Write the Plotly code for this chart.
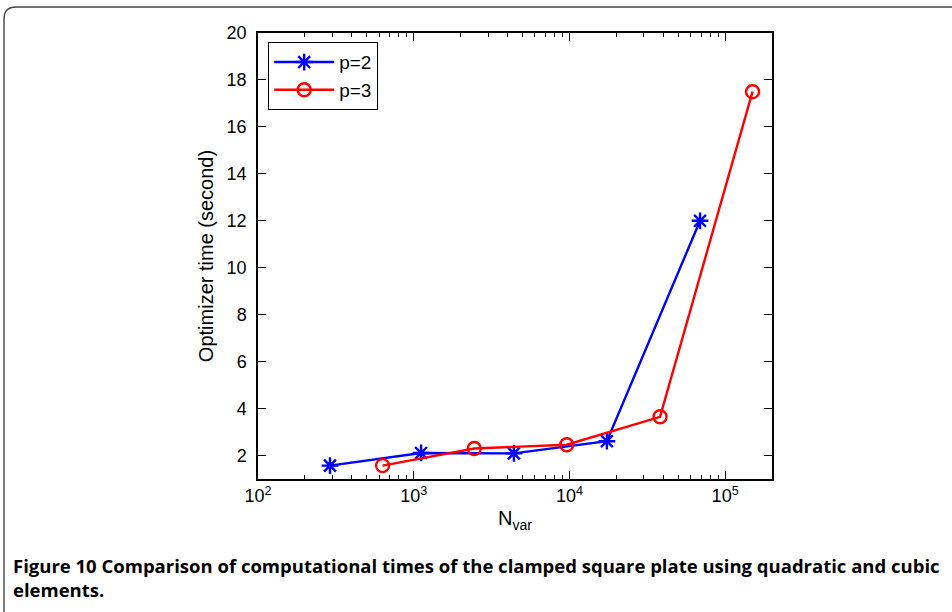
import plotly.graph_objects as go

# Data
n_var_p2 = [290, 1115, 4400, 17400, 69000]
time_p2 = [1.57, 2.11, 2.09, 2.61, 12.0]
n_var_p3 = [631, 2450, 9610, 38200, 150000]
time_p3 = [1.57, 2.30, 2.46, 3.65, 17.5]

x_tick_vals = [100, 1000, 10000, 100000]
x_tick_text = ["10<sup>2</sup>", "10<sup>3</sup>", "10<sup>4</sup>", "10<sup>5</sup>"]
x_minor_vals = [k * 10 ** d for d in range(2, 6) for k in range(2, 10) if k * 10 ** d < 200000]
y_tick_vals = [2, 4, 6, 8, 10, 12, 14, 16, 18, 20]

caption = ("<b>Figure 10 Comparison of computational times of the clamped square plate using quadratic and cubic<br>"
           "elements.</b>")

fig = go.Figure()
fig.add_trace(go.Scatter(
    x=n_var_p2, y=time_p2, name="p=2", mode="lines+markers",
    line=dict(color="#0000ff", width=2.4),
    marker=dict(symbol="asterisk-open", size=14, color="#0000ff", line=dict(color="#0000ff", width=2.4)),
))
fig.add_trace(go.Scatter(
    x=n_var_p3, y=time_p3, name="p=3", mode="lines+markers",
    line=dict(color="#ff0000", width=2.4),
    marker=dict(symbol="circle-open", size=13, color="#ff0000", line=dict(color="#ff0000", width=2.4)),
))

L, R, T, B = 258, 180, 33, 133
W, H = 952, 612
pw, ph = W - L - R, H - T - B

def px(x):
    return (x - L) / pw

def py(y):
    return (H - B - y) / ph

frame_path = (f"M {px(960)},{py(7)} L {px(16)},{py(7)} "
              f"Q {px(4)},{py(7)} {px(4)},{py(19)} L {px(4)},{py(620)}")

fig.update_layout(
    width=W, height=H,
    margin=dict(l=L, r=R, t=T, b=B),
    paper_bgcolor="white", plot_bgcolor="white",
    font=dict(family="Liberation Sans, Arial, sans-serif", color="black", size=16),
    showlegend=True,
    legend=dict(
        x=px(268), y=py(42), xanchor="left", yanchor="top",
        bordercolor="black", borderwidth=1.2, bgcolor="white",
        font=dict(size=19), tracegroupgap=0, itemwidth=60,
    ),
    shapes=[dict(type="path", xref="paper", yref="paper", path=frame_path,
                 line=dict(color="#444444", width=1.4), layer="below")],
    annotations=[dict(
        text=caption, xref="paper", yref="paper",
        x=px(11), y=py(551), xanchor="left", yanchor="top", align="left",
        showarrow=False, font=dict(family="Open Sans, sans-serif", size=18.5, color="black"),
    )],
)

fig.update_xaxes(
    type="log", range=[2, 5.301],
    tickvals=x_tick_vals, ticktext=x_tick_text,
    ticks="inside", ticklen=8, tickcolor="black", tickwidth=1.2,
    showline=True, linecolor="black", linewidth=1.5, mirror="ticks",
    showgrid=False, zeroline=False,
    minor=dict(tickmode="array", tickvals=x_minor_vals, ticks="inside", ticklen=4,
               tickcolor="black", tickwidth=1.2, showgrid=False),
    title=dict(text="N<sub>var</sub>", font=dict(size=20), standoff=6),
    tickfont=dict(size=18),
)
fig.update_yaxes(
    range=[1, 20], tickvals=y_tick_vals,
    ticks="inside", ticklen=8, tickcolor="black", tickwidth=1.2,
    showline=True, linecolor="black", linewidth=1.5, mirror="ticks",
    showgrid=False, zeroline=False, ticklabelstandoff=6,
    title=dict(text="Optimizer time (second)", font=dict(size=20), standoff=8),
    tickfont=dict(size=18),
)

fig.write_html("out.html", config={"displayModeBar": False},
               post_script="document.body.style.margin='0';")
